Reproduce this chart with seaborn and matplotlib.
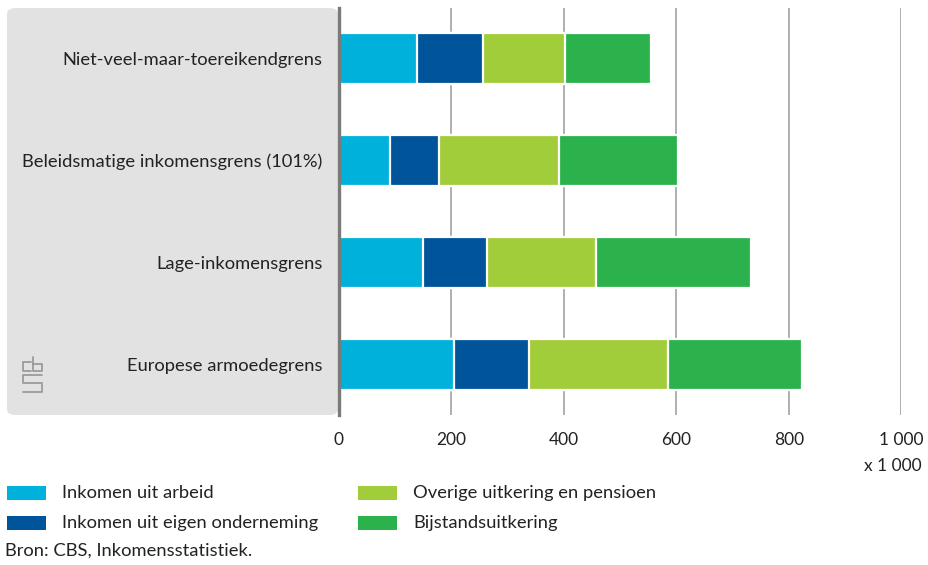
import numpy as np
import pandas as pd
import matplotlib.pyplot as plt
from matplotlib.patches import FancyBboxPatch, Rectangle
import seaborn as sns

# waarden x 1 000 huishoudens
grenzen = ['Niet-veel-maar-toereikendgrens',
           'Beleidsmatige inkomensgrens (101%)',
           'Lage-inkomensgrens',
           'Europese armoedegrens']
series = ['Inkomen uit arbeid',
          'Inkomen uit eigen onderneming',
          'Overige uitkering en pensioen',
          'Bijstandsuitkering']
arbeid = [139, 90, 149, 205]
onderneming = [117, 88, 114, 133]
overig = [146, 213, 194, 247]
bijstand = [152, 211, 275, 238]
kleuren = ['#00b1dc', '#00559a', '#a2cd3a', '#2bb24c']
xticks = [0, 200, 400, 600, 800, 1000]
xticklabels = ['0', '200', '400', '600', '800', '1 000']

df = pd.DataFrame({'grens': grenzen, series[0]: arbeid, series[1]: onderneming,
                   series[2]: overig, series[3]: bijstand})
cum = df[series].cumsum(axis=1)
cum['grens'] = grenzen

sns.set_theme(style='white')
plt.rcParams['font.family'] = ['Lato', 'DejaVu Sans']
tekst = '#222222'
fs = 13.2

W, H = 929, 565
fig = plt.figure(figsize=(W / 100, H / 100), dpi=100)

def fx(px):
    return px / W

def fy(py):
    return 1 - py / H

# grijs paneel achter de categorielabels
paneel = FancyBboxPatch((fx(7), fy(415)), fx(338) - fx(7), fy(8) - fy(415),
                        boxstyle='round,pad=0,rounding_size=0.010',
                        transform=fig.transFigure, facecolor='#e1e2e1',
                        edgecolor='none', zorder=-5)
fig.patches.append(paneel)

ax = fig.add_axes([fx(339), fy(415), fx(901.3) - fx(339), fy(8) - fy(415)])
ax.set_facecolor('none')

# gestapelde balken: cumulatief tekenen, grootste eerst
for s, c in reversed(list(zip(series, kleuren))):
    sns.barplot(data=cum, x=s, y='grens', color=c, orient='h', width=0.5,
                edgecolor='white', linewidth=1.6, saturation=1, ax=ax, zorder=3)

ax.set_xlim(0, 1000)
ax.set_ylim(3.5, -0.5)
ax.set_xticks(xticks)
ax.set_xticklabels(xticklabels)
ax.set_xlabel('')
ax.set_ylabel('')
ax.xaxis.grid(True, color='#9a9a9a', linewidth=1.1, zorder=1)
ax.yaxis.grid(False)
ax.set_axisbelow(True)
for sp in ['top', 'right', 'bottom']:
    ax.spines[sp].set_visible(False)
ax.spines['left'].set_color('#7a7a7a')
ax.spines['left'].set_linewidth(2.4)
ax.spines['left'].set_zorder(5)
ax.tick_params(axis='x', length=0, pad=12, labelsize=12.5, labelcolor=tekst)
ax.tick_params(axis='y', length=0, pad=12, labelsize=fs, labelcolor=tekst)
ax.xaxis.get_gridlines()[0].set_visible(False)
for lab in ax.get_yticklabels():
    lab.set_zorder(10)

fig.text(fx(922), fy(466), 'x 1 000', ha='right', va='center', fontsize=12.5, color=tekst)

# legenda
posities = [(7, 493), (7, 523), (358, 493), (358, 523)]
for (px, py), s, c in zip(posities, series, kleuren):
    fig.patches.append(Rectangle((fx(px), fy(py + 7)), fx(39), 14 / H,
                                 transform=fig.transFigure, facecolor=c,
                                 edgecolor='none'))
    fig.text(fx(px + 55), fy(py), s, ha='left', va='center', fontsize=fs, color=tekst)

fig.text(fx(5), fy(551), 'Bron: CBS, Inkomensstatistiek.', ha='left', va='center',
         fontsize=fs, color=tekst)

# eenvoudig cbs-logo
for xs, ys in [([31, 23, 23, 31], [362, 362, 371, 371]),
               ([33, 33, 42, 42, 33], [357, 371, 371, 364, 364]),
               ([42, 23, 23, 42, 42, 23], [375, 375, 383, 383, 392, 392])]:
    fig.add_artist(plt.Line2D([fx(v) for v in xs], [fy(v) for v in ys],
                              color='#9a9a9a', linewidth=1.3,
                              transform=fig.transFigure))

fig.savefig('out.png', dpi=100)
